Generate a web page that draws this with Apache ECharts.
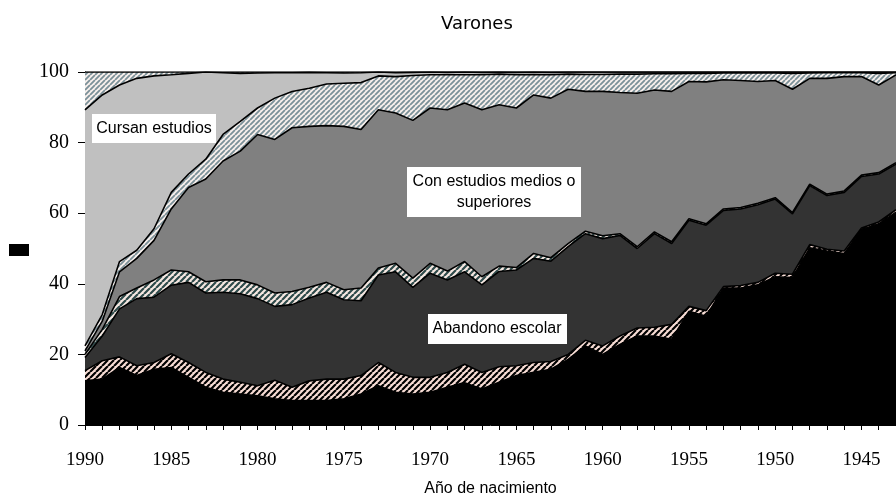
<!DOCTYPE html>
<html>
<head>
<meta charset="utf-8">
<script src="https://cdn.jsdelivr.net/npm/echarts@6/dist/echarts.min.js"></script>
<style>
  html, body { margin: 0; padding: 0; background: #fff; }
  #chart { width: 896px; height: 502px; }
</style>
</head>
<body>
<div id="chart"></div>
<script>
// años de nacimiento (eje x, de 1990 hacia atrás)
var anios = ['1990','1989','1988','1987','1986','1985','1984','1983','1982','1981',
  '1980','1979','1978','1977','1976','1975','1974','1973','1972','1971',
  '1970','1969','1968','1967','1966','1965','1964','1963','1962','1961',
  '1960','1959','1958','1957','1956','1955','1954','1953','1952','1951',
  '1950','1949','1948','1947','1946','1945','1944','1943'];

// capas apiladas, de abajo hacia arriba (en %)
var capaNegra = [12.5,13.0,16.3,14.0,15.8,16.3,13.5,10.7,9.3,8.8,
  8.3,7.4,6.9,6.9,6.9,7.4,8.8,11.1,9.3,8.8,
  9.3,10.7,12.0,10.2,12.1,14.0,14.9,15.8,18.6,22.4,
  20.0,22.8,25.2,25.2,24.3,32.2,30.8,38.8,38.8,39.7,
  42.0,41.8,50.2,49.3,48.6,55.4,57.0,60.3];
var tramaRosa = [2.9,5.2,3.0,2.8,1.9,3.9,4.2,4.2,3.7,3.3,
  2.8,5.3,3.8,5.6,6.1,5.6,5.2,6.6,5.6,4.7,
  4.2,4.2,5.2,4.7,4.4,2.8,2.8,2.2,1.4,1.6,
  2.4,2.4,2.3,2.5,4.2,1.4,1.6,0.4,0.7,0.7,
  1.0,0.9,0.9,0.5,0.7,0.4,0.5,0.7];
var abandono = [3.7,7.0,13.6,19.0,18.5,19.4,22.7,22.5,24.6,25.1,
  24.7,20.9,23.4,23.5,24.6,22.5,21.2,24.8,28.5,25.5,
  29.5,26.2,26.2,24.8,27.0,27.1,29.5,28.4,30.5,30.2,
  30.4,28.5,22.5,26.5,22.9,24.4,24.2,21.6,21.7,22.0,
  21.0,17.1,16.7,15.2,16.6,14.6,13.6,12.9];
var tramaVerde = [0.9,1.9,3.5,3.0,4.9,4.3,3.0,3.2,3.5,3.9,
  3.9,3.8,3.7,3.0,2.8,2.8,3.6,2.0,2.4,2.6,
  2.8,2.5,2.9,2.3,1.5,0.7,1.4,1.0,0.9,0.7,
  0.8,0.5,0.5,0.5,0.5,0.4,0.4,0.4,0.4,0.4,
  0.4,0.4,0.4,0.4,0.4,0.4,0.4,0.4];
var estudiosMedios = [1.0,2.3,7.0,8.4,11.2,17.3,23.9,29.1,33.7,36.5,
  42.6,43.5,46.4,45.6,44.4,46.3,44.9,44.8,42.6,44.7,
  44.0,45.7,44.9,47.3,45.7,45.2,44.9,45.2,43.7,39.6,
  40.9,40.0,43.5,40.2,42.6,38.9,40.2,36.6,36.0,34.5,
  33.2,34.9,30.0,32.8,32.4,27.9,24.8,24.9];
var tramaGris = [1.4,1.9,2.9,2.3,3.3,4.7,3.8,5.6,7.5,8.4,
  7.5,11.7,10.3,10.8,11.8,12.2,13.3,9.6,10.3,12.7,
  9.4,9.9,8.0,9.9,8.7,9.4,5.8,6.6,4.3,4.8,
  4.8,5.2,5.4,4.6,5.0,2.3,2.4,1.9,2.1,2.4,
  2.1,4.5,1.5,1.6,1.1,1.1,3.3,0.6];
var cursan = [66.9,62.2,50.0,48.7,43.3,33.3,28.5,24.7,17.5,13.6,
  9.9,7.2,5.3,4.5,3.2,2.9,2.8,1.1,1.1,0.9,
  0.8,0.7,0.8,0.7,0.6,0.7,0.7,0.7,0.6,0.7,
  0.7,0.6,0.6,0.5,0.5,0.4,0.4,0.3,0.3,0.3,
  0.3,0.4,0.3,0.2,0.2,0.2,0.4,0.2];
var tramaSup = [10.7,6.5,3.7,1.8,1.1,0.8,0.4,0.0,0.2,0.4,
  0.3,0.2,0.2,0.1,0.2,0.3,0.2,0.0,0.2,0.1,
  0.0,0.1,0.0,0.1,0.0,0.1,0.0,0.1,0.0,0.0,
  0,0,0,0,0,0,0,0,0,0,
  0,0,0,0,0,0,0,0];

var ticksY = [0, 20, 40, 60, 80, 100];

// rayado diagonal "/"
function trama(fondo, raya, paso, grosor) {
  var c = document.createElement('canvas');
  c.width = paso; c.height = paso;
  var ctx = c.getContext('2d');
  ctx.fillStyle = fondo;
  ctx.fillRect(0, 0, paso, paso);
  ctx.strokeStyle = raya;
  ctx.lineWidth = grosor;
  ctx.beginPath();
  for (var k = -1; k <= 1; k++) {
    ctx.moveTo(k * paso, paso);
    ctx.lineTo(k * paso + paso, 0);
  }
  ctx.stroke();
  return { image: c, repeat: 'repeat' };
}

function capa(nombre, datos, relleno) {
  return {
    name: nombre,
    type: 'line',
    stack: 'total',
    data: datos,
    symbol: 'none',
    lineStyle: { color: '#000', width: 1.6 },
    areaStyle: { color: relleno, opacity: 1 },
    emphasis: { disabled: true }
  };
}

var chart = echarts.init(document.getElementById('chart'));
var serif = '"Liberation Serif", "Times New Roman", serif';
var sans = '"Liberation Sans", Arial, sans-serif';

chart.setOption({
  animation: false,
  title: {
    text: 'Varones',
    left: 436,
    top: 10,
    textStyle: { fontFamily: '"DejaVu Sans", sans-serif', fontSize: 18, fontWeight: 'normal', color: '#000' }
  },
  grid: { left: 85, right: 0, top: 72, bottom: 74 },
  xAxis: {
    type: 'category',
    data: anios,
    boundaryGap: false,
    axisLine: { lineStyle: { color: '#000', width: 1 } },
    axisTick: { interval: 0, length: 5, lineStyle: { color: '#000' } },
    axisLabel: { interval: 4, margin: 26, fontFamily: serif, fontSize: 19, color: '#000' },
    name: 'Año de nacimiento',
    nameLocation: 'middle',
    nameGap: 56,
    nameTextStyle: { fontFamily: sans, fontSize: 16, color: '#000' }
  },
  yAxis: {
    type: 'value',
    min: ticksY[0],
    max: ticksY[ticksY.length - 1],
    interval: 20,
    splitLine: { show: false },
    axisLine: { show: true, lineStyle: { color: '#000', width: 1 } },
    axisTick: { show: true, length: 7, lineStyle: { color: '#000' } },
    axisLabel: { margin: 16, fontFamily: serif, fontSize: 20, color: '#000' }
  },
  series: [
    capa('capaNegra', capaNegra, '#000000'),
    capa('tramaRosa', tramaRosa, trama('#f8ddd5', '#000000', 6, 2.2)),
    capa('Abandono escolar', abandono, '#333333'),
    capa('tramaVerde', tramaVerde, trama('#f6e8e2', '#2e4a4a', 6, 2.2)),
    capa('Con estudios medios o superiores', estudiosMedios, '#808080'),
    capa('tramaGris', tramaGris, trama('#f7efec', '#7a9098', 5, 1.8)),
    capa('Cursan estudios', cursan, '#c0c0c0'),
    capa('tramaSup', tramaSup, trama('#f7efec', '#7a9098', 5, 1.8))
  ],
  graphic: [
    { type: 'rect', z: 100, shape: { x: 9, y: 244, width: 20, height: 12 }, style: { fill: '#000' } },
    { type: 'rect', z: 100, shape: { x: 92, y: 114, width: 124, height: 29 }, style: { fill: '#fff' } },
    { type: 'text', z: 101, x: 154, y: 129, style: { text: 'Cursan estudios', font: '16px ' + sans, fill: '#000', align: 'center', verticalAlign: 'middle' } },
    { type: 'rect', z: 100, shape: { x: 407, y: 167, width: 174, height: 50 }, style: { fill: '#fff' } },
    { type: 'text', z: 101, x: 494, y: 192, style: { text: 'Con estudios medios o\nsuperiores', font: '16px ' + sans, lineHeight: 21, fill: '#000', align: 'center', verticalAlign: 'middle' } },
    { type: 'rect', z: 100, shape: { x: 428, y: 314, width: 139, height: 30 }, style: { fill: '#fff' } },
    { type: 'text', z: 101, x: 497, y: 329, style: { text: 'Abandono escolar', font: '16px ' + sans, fill: '#000', align: 'center', verticalAlign: 'middle' } }
  ]
});
</script>
</body>
</html>
